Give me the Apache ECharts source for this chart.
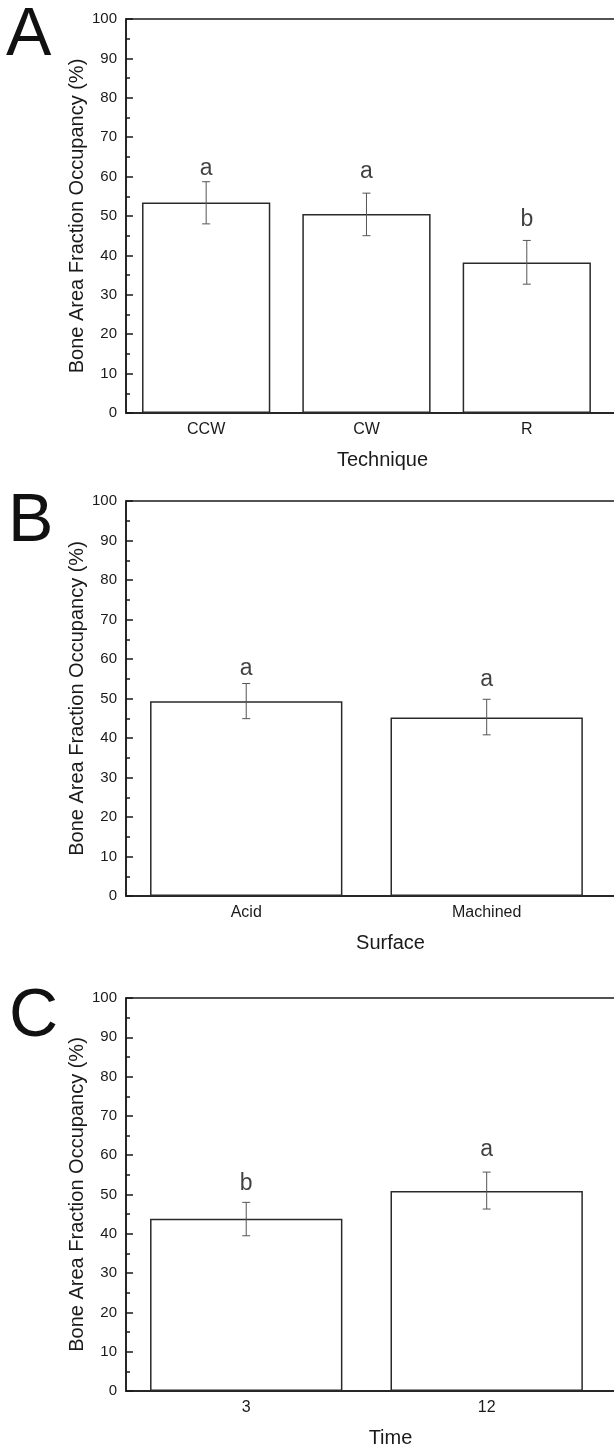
<!DOCTYPE html>
<html>
<head>
<meta charset="utf-8">
<script src="https://cdn.jsdelivr.net/npm/echarts@6/dist/echarts.min.js"></script>
<style>
  html, body { margin: 0; padding: 0; background: #fff; overflow: hidden; }
  #chart { width: 700px; height: 1449px; }
</style>
</head>
<body>
<div id="chart"></div>
<script>
// Panel A - technique
var techCats = ['CCW', 'CW', 'R'];
var techMean = [53.4, 50.5, 38.2];
var techLow = [48.0, 45.0, 32.7];
var techHigh = [58.7, 55.8, 43.8];
var techLetters = ['a', 'a', 'b'];
var techLetterY = [62.0, 61.3, 49.0];

// Panel B - surface
var surfCats = ['Acid', 'Machined'];
var surfMean = [49.3, 45.2];
var surfLow = [44.9, 40.8];
var surfHigh = [53.8, 49.8];
var surfLetters = ['a', 'a'];
var surfLetterY = [57.5, 54.7];

// Panel C - time
var timeCats = ['3', '12'];
var timeMean = [43.8, 50.9];
var timeLow = [39.5, 46.3];
var timeHigh = [48.0, 55.7];
var timeLetters = ['b', 'a'];
var timeLetterY = [52.8, 61.5];

var FONT = '"Liberation Sans", Arial, Helvetica, sans-serif';
var INK = '#1a1a1a';

var panels = [
    { tag: 'A', name: 'Technique', cats: techCats, mean: techMean, low: techLow, high: techHigh, letters: techLetters, letterY: techLetterY,
      top: 19, height: 394, width: 513, xMax: 3.7, tagX: 6, tagY: 36 },
    { tag: 'B', name: 'Surface', cats: surfCats, mean: surfMean, low: surfLow, high: surfHigh, letters: surfLetters, letterY: surfLetterY,
      top: 501, height: 395, width: 529, xMax: 2.7, tagX: 8, tagY: 522 },
    { tag: 'C', name: 'Time', cats: timeCats, mean: timeMean, low: timeLow, high: timeHigh, letters: timeLetters, letterY: timeLetterY,
      top: 998, height: 394, width: 529, xMax: 2.7, tagX: 9, tagY: 1017 }
];

var grids = [], xAxes = [], yAxes = [], series = [], graphics = [];

function renderErr(params, api) {
    var x = api.value(0);
    var lo = api.coord([x, api.value(1)]);
    var hi = api.coord([x, api.value(2)]);
    var cap = 4;
    var st = { stroke: '#555', lineWidth: 1 };
    return {
        type: 'group',
        children: [
            { type: 'line', shape: { x1: lo[0], y1: lo[1], x2: hi[0], y2: hi[1] }, style: st },
            { type: 'line', shape: { x1: lo[0] - cap, y1: lo[1], x2: lo[0] + cap, y2: lo[1] }, style: st },
            { type: 'line', shape: { x1: hi[0] - cap, y1: hi[1], x2: hi[0] + cap, y2: hi[1] }, style: st }
        ]
    };
}

panels.forEach(function (p, i) {
    var pxPerUnit = p.width / (p.xMax - 0.5);
    var xs = p.cats.map(function (c, k) { return k + 1; });

    grids.push({
        left: 126, top: p.top, width: p.width, height: p.height,
        show: true, borderColor: INK, borderWidth: 1.5, backgroundColor: 'transparent'
    });

    xAxes.push({
        gridIndex: i,
        type: 'value',
        min: 0.5,
        max: p.xMax,
        name: p.name,
        nameLocation: 'middle',
        nameGap: 37,
        nameMoveOverlap: false,
        nameTextStyle: { fontFamily: FONT, fontSize: 20, color: INK },
        axisLine: { show: true, lineStyle: { color: INK, width: 1.5 } },
        axisTick: { show: false },
        splitLine: { show: false },
        axisLabel: {
            customValues: xs,
            margin: 9,
            fontFamily: FONT, fontSize: 16, color: INK,
            formatter: function (v) { return p.cats[Math.round(v) - 1] || ''; }
        }
    });

    yAxes.push({
        gridIndex: i,
        type: 'value',
        min: 0,
        max: 100,
        interval: 10,
        name: 'Bone Area Fraction Occupancy (%)',
        nameLocation: 'middle',
        nameGap: 39,
        nameMoveOverlap: false,
        nameTextStyle: { fontFamily: FONT, fontSize: 20, color: INK },
        axisLine: { show: true, lineStyle: { color: INK, width: 1.5 } },
        axisTick: { show: true, inside: true, length: 7, lineStyle: { color: INK, width: 1.5 } },
        minorTick: { show: true, splitNumber: 2, length: 4, lineStyle: { color: INK, width: 1.5 } },
        splitLine: { show: false },
        axisLabel: { margin: 9, fontFamily: FONT, fontSize: 15, color: INK }
    });

    series.push({
        type: 'bar',
        xAxisIndex: i, yAxisIndex: i,
        barWidth: 0.8 * pxPerUnit,
        data: xs.map(function (x, k) { return [x, p.mean[k]]; }),
        itemStyle: { color: '#fff', borderColor: '#2a2a2a', borderWidth: 1.5 },
        silent: true
    });

    series.push({
        type: 'custom',
        xAxisIndex: i, yAxisIndex: i,
        renderItem: renderErr,
        encode: { x: 0, y: [1, 2] },
        data: xs.map(function (x, k) { return [x, p.low[k], p.high[k]]; }),
        z: 3,
        silent: true
    });

    series.push({
        type: 'scatter',
        xAxisIndex: i, yAxisIndex: i,
        symbolSize: 1,
        itemStyle: { color: 'transparent' },
        data: xs.map(function (x, k) { return [x, p.letterY[k]]; }),
        label: {
            show: true,
            position: 'inside',
            fontFamily: FONT, fontSize: 23, color: '#111',
            formatter: function (d) { return p.letters[d.dataIndex]; }
        },
        z: 4,
        silent: true
    });

    graphics.push({
        type: 'text',
        x: p.tagX,
        y: p.tagY,
        style: {
            text: p.tag,
            font: '68px ' + FONT,
            fill: '#111',
            textVerticalAlign: 'middle'
        }
    });
});

var chart = echarts.init(document.getElementById('chart'));
chart.setOption({
    backgroundColor: '#fff',
    animation: false,
    grid: grids,
    xAxis: xAxes,
    yAxis: yAxes,
    series: series,
    graphic: graphics
});
</script>
</body>
</html>
